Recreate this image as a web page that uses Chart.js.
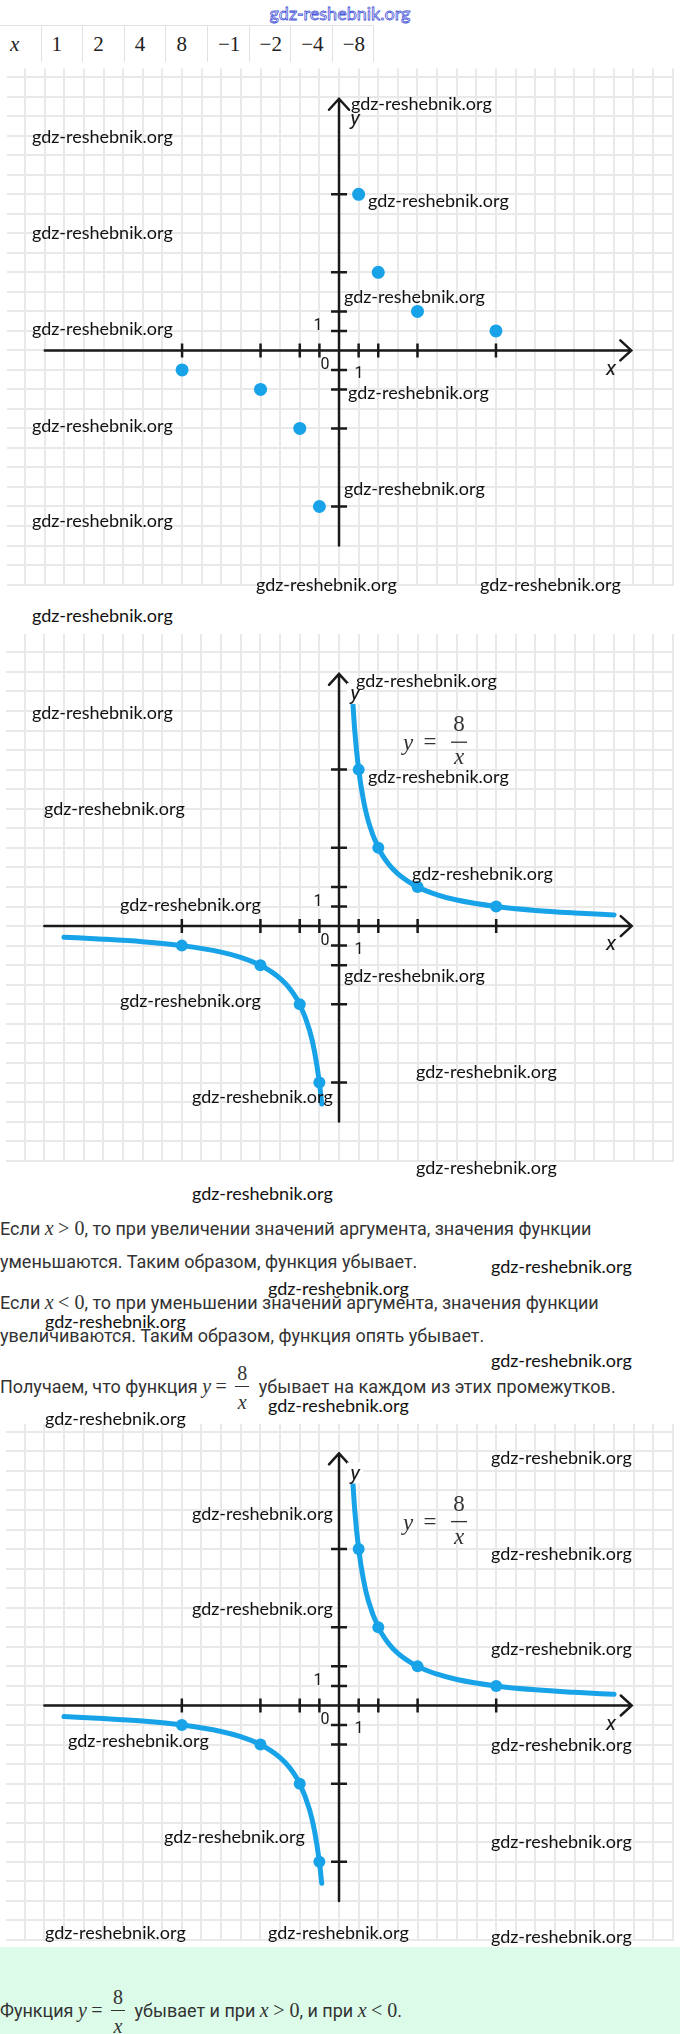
<!DOCTYPE html>
<html>
<head>
<meta charset="utf-8">
<script src="https://cdn.jsdelivr.net/npm/chart.js@4.4.1/dist/chart.umd.min.js"></script>
<style>
  body { margin: 0; width: 680px; height: 2034px; position: relative; background: #fff; overflow: hidden;
         font-family: Roboto, "Noto Sans", sans-serif; color: #333; }
  .panel { position: absolute; left: 0; width: 680px; }
  .wm { position: absolute; font-family: Lato, sans-serif; font-size: 18px; line-height: 20px; color: #111;
        white-space: nowrap; z-index: 5; }
  .top-wm { position: absolute; top: 2px; left: 0; width: 680px; text-align: center; font-family: Lato, sans-serif;
            font-size: 18px; color: #fff; -webkit-text-stroke: 0.8px #4a57d8; z-index: 5; }
  .m { font-family: "Liberation Serif", serif; font-size: 20px; }
  .mi { font-family: "Liberation Serif", serif; font-style: italic; font-size: 20px; }
  .line { position: absolute; left: 0; white-space: nowrap; font-size: 18px; line-height: 24px; height: 24px; }
  .frac { display: inline-block; position: relative; width: 14px; height: 0; margin: 0 5px 0 4px;
          vertical-align: 0.32em; border-top: 1px solid #333; font-family: "Liberation Serif", serif; font-size: 20px; }
  .frac .num, .frac .den { position: absolute; left: -4px; right: -4px; text-align: center; line-height: 22px; }
  .frac .num { bottom: 3px; }
  .frac .den { top: 4px; font-style: italic; }
  #table { position: absolute; top: 25px; left: 0; height: 37px; display: flex; }
  #table div { width: 41.6px; box-sizing: border-box; border-right: 1px solid #e2e2e2; border-top: 1px solid #e2e2e2;
               padding-left: 10px; line-height: 37px; font-family: "Liberation Serif", serif; font-size: 21px; color: #222; }
  #green { position: absolute; left: 0; top: 1947px; width: 680px; height: 87px; background: #dcfce9; }
</style>
</head>
<body>
<div class="top-wm">gdz-reshebnik.org</div>
<div id="table"></div>

<canvas id="g1" class="panel" style="top:62px" width="680" height="530"></canvas>
<canvas id="g2" class="panel" style="top:628px" width="680" height="540"></canvas>
<canvas id="g3" class="panel" style="top:1418px" width="680" height="529"></canvas>

<div class="line" style="top:1216px">Если <span class="mi">x</span> <span class="m">&gt; 0</span>, то при увеличении значений аргумента, значения функции</div>
<div class="line" style="top:1250px">уменьшаются. Таким образом, функция убывает.</div>
<div class="line" style="top:1290px">Если <span class="mi">x</span> <span class="m">&lt; 0</span>, то при уменьшении значений аргумента, значения функции</div>
<div class="line" style="top:1324px">увеличиваются. Таким образом, функция опять убывает.</div>
<div class="line" style="top:1374px">Получаем, что функция <span class="mi">y</span> <span class="m">=</span> <span class="frac"><span class="num">8</span><span class="den">x</span></span> убывает на каждом из этих промежутков.</div>

<div id="green"></div>
<div class="line" style="top:1998px">Функция <span class="mi">y</span> <span class="m">=</span> <span class="frac"><span class="num">8</span><span class="den">x</span></span> убывает и при <span class="mi">x</span> <span class="m">&gt; 0</span>, и при <span class="mi">x</span> <span class="m">&lt; 0</span>.</div>

<script>
// table header: argument values
const tableLabels = ['x', '1', '2', '4', '8', '−1', '−2', '−4', '−8'];

// points of y = 8/x from the table
const pointX = [1, 2, 4, 8, -1, -2, -4, -8];
const pointY = [8, 4, 2, 1, -8, -4, -2, -1];

// curve, right and left branch
const rightX = [0.65, 0.8, 1, 1.25, 1.5, 2, 2.5, 3, 4, 5, 6, 8, 10, 12, 14];
const rightY = [12.3, 10, 8, 6.4, 5.33, 4, 3.2, 2.67, 2, 1.6, 1.33, 1, 0.8, 0.67, 0.57];
const leftX = [-14, -12, -10, -8, -6, -5, -4, -3, -2.5, -2, -1.5, -1.25, -1, -0.88];
const leftY = [-0.57, -0.67, -0.8, -1, -1.33, -1.6, -2, -2.67, -3.2, -4, -5.33, -6.4, -8, -9.1];

// marked divisions on both axes
const tickValues = [-8, -4, -2, -1, 1, 2, 4, 8];

const BLUE = '#18a3e8';
const INK = '#1a1a1a';

// watermark spots [left, middle]
const marks = [
  [32, 136], [32, 232], [32, 328], [32, 425], [32, 520], [32, 615],
  [351, 103], [368, 200], [344, 296], [348, 392], [344, 488], [256, 584], [480, 584],
  [32, 712], [44, 808], [356, 680], [368, 776], [412, 873], [120, 904], [344, 975],
  [120, 1000], [416, 1071], [192, 1096], [416, 1167], [192, 1193],
  [491, 1266], [268, 1288], [45, 1321], [491, 1360], [268, 1405], [45, 1418],
  [491, 1457], [192, 1513], [491, 1553], [192, 1608], [491, 1648],
  [68, 1740], [491, 1744], [164, 1836], [491, 1841], [45, 1932], [268, 1932], [491, 1936]
];

const table = document.getElementById('table');
tableLabels.forEach((t, i) => {
  const d = document.createElement('div');
  d.textContent = t;
  if (i === 0) d.style.fontStyle = 'italic';
  table.appendChild(d);
});

marks.forEach(([x, y]) => {
  const d = document.createElement('div');
  d.className = 'wm';
  d.textContent = 'gdz-reshebnik.org';
  d.style.left = x + 'px';
  d.style.top = (y - 10) + 'px';
  document.body.appendChild(d);
});

const axesPlugin = {
  id: 'axes',
  beforeDatasetsDraw(chart) {
    const { ctx, scales: { x, y } } = chart;
    const ox = x.getPixelForValue(0);
    const oy = y.getPixelForValue(0);
    const xEnd = x.getPixelForValue(14.9);
    const yTop = y.getPixelForValue(12.9);
    ctx.save();
    ctx.strokeStyle = INK;
    ctx.lineWidth = 2.5;
    ctx.lineCap = 'round';
    ctx.beginPath();
    ctx.moveTo(x.getPixelForValue(-15), oy);
    ctx.lineTo(xEnd, oy);
    ctx.moveTo(xEnd - 11, oy - 10);
    ctx.lineTo(xEnd, oy);
    ctx.lineTo(xEnd - 11, oy + 10);
    ctx.moveTo(ox, y.getPixelForValue(-10));
    ctx.lineTo(ox, yTop);
    ctx.moveTo(ox - 10, yTop + 11);
    ctx.lineTo(ox, yTop);
    ctx.lineTo(ox + 10, yTop + 11);
    ctx.stroke();
    ctx.lineCap = 'butt';
    ctx.beginPath();
    tickValues.forEach(v => {
      const px = x.getPixelForValue(v);
      ctx.moveTo(px, oy - 7);
      ctx.lineTo(px, oy + 7);
      const py = y.getPixelForValue(v);
      ctx.moveTo(ox - 8, py);
      ctx.lineTo(ox + 8, py);
    });
    ctx.stroke();
    ctx.restore();
  },
  afterDatasetsDraw(chart, args, opts) {
    const { ctx, scales: { x, y } } = chart;
    const ox = x.getPixelForValue(0);
    const oy = y.getPixelForValue(0);
    ctx.save();
    if (opts.formula) {
      ctx.fillStyle = '#fff';
      ctx.fillRect(ox + 8, oy - 243, 16, 21);
    }
    ctx.fillStyle = INK;
    ctx.textAlign = 'center';
    ctx.textBaseline = 'middle';
    ctx.font = 'italic 21px Roboto';
    ctx.fillText('x', ox + 272, oy + 19);
    ctx.fillText('y', ox + 16, oy - 231);
    ctx.font = '16px Roboto';
    ctx.fillText('0', ox - 14, oy + 15);
    ctx.fillText('1', ox + 20, oy + 24);
    ctx.fillText('1', ox - 21, oy - 24);
    if (opts.formula) {
      ctx.fillStyle = '#333';
      ctx.font = 'italic 23px "Liberation Serif"';
      ctx.fillText('y', ox + 69, oy - 182);
      ctx.font = '23px "Liberation Serif"';
      ctx.fillText('=', ox + 91, oy - 183);
      ctx.fillText('8', ox + 120, oy - 201);
      ctx.fillRect(ox + 112, oy - 184.5, 16, 1.3);
      ctx.font = 'italic 23px "Liberation Serif"';
      ctx.fillText('x', ox + 120, oy - 168);
    }
    ctx.restore();
  }
};

// one grid line per unit, whatever the min and max
function integerTicks(scale) {
  const ticks = [];
  for (let v = Math.ceil(scale.min); v <= Math.floor(scale.max); v++) ticks.push({ value: v });
  scale.ticks = ticks;
}

function makeGraph(id, yMin, yMax, withCurve) {
  const datasets = [];
  if (withCurve) {
    datasets.push({
      data: rightX.map((v, i) => ({ x: v, y: rightY[i] })),
      showLine: true, borderColor: BLUE, borderWidth: 5, pointRadius: 0,
      cubicInterpolationMode: 'monotone', borderCapStyle: 'round'
    });
    datasets.push({
      data: leftX.map((v, i) => ({ x: v, y: leftY[i] })),
      showLine: true, borderColor: BLUE, borderWidth: 5, pointRadius: 0,
      cubicInterpolationMode: 'monotone', borderCapStyle: 'round'
    });
  }
  datasets.push({
    data: pointX.map((v, i) => ({ x: v, y: pointY[i] })),
    pointRadius: withCurve ? 6 : 6.5,
    pointBackgroundColor: BLUE,
    pointBorderWidth: 0
  });

  const axis = (min, max) => ({
    type: 'linear', min, max,
    ticks: { display: false },
    afterBuildTicks: integerTicks,
    grid: { color: '#e9e9e9', lineWidth: 2, drawTicks: false },
    border: { display: false }
  });

  new Chart(document.getElementById(id), {
    type: 'scatter',
    data: { datasets },
    options: {
      responsive: false,
      animation: false,
      events: [],
      layout: { padding: 0 },
      plugins: {
        legend: { display: false },
        tooltip: { enabled: false },
        axes: { formula: withCurve }
      },
      scales: {
        x: axis(-16.95, 17.05),
        y: axis(yMin, yMax)
      }
    },
    plugins: [axesPlugin]
  });
}

makeGraph('g1', -12.05, 14.45, false);
makeGraph('g2', -12.065, 14.935, true);
makeGraph('g3', -12.05, 14.4, true);
</script>
</body>
</html>
